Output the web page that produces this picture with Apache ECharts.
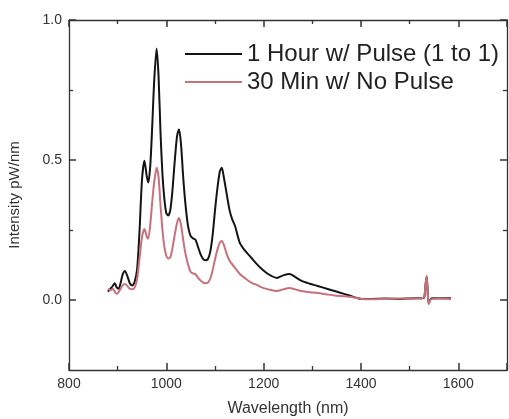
<!DOCTYPE html>
<html>
<head>
<meta charset="utf-8">
<script src="https://cdn.jsdelivr.net/npm/echarts@6/dist/echarts.min.js"></script>
<style>
html,body{margin:0;padding:0;background:#fff;}
#c{width:509px;height:419px;}
</style>
</head>
<body>
<div id="c"></div>
<script>
// Data
const wavelengths = [880,885,890,894,898,902,906,910,915,920,925,930,935,940,945,950,955,960,963,967,971,975,980,984,988,992,996,1000,1004,1008,1012,1017,1022,1026,1030,1035,1040,1045,1050,1055,1060,1065,1070,1075,1080,1085,1090,1095,1100,1105,1110,1114,1118,1124,1130,1135,1141,1151,1160,1175,1185,1196,1210,1227,1240,1253,1265,1278,1295,1311,1330,1346,1365,1380,1392,1401,1420,1450,1480,1510,1525,1530,1533,1535,1537,1539,1542,1546,1560,1585];
const pulseSeries = [0.030,0.040,0.050,0.060,0.045,0.040,0.060,0.090,0.104,0.085,0.060,0.052,0.065,0.110,0.250,0.430,0.497,0.440,0.420,0.480,0.620,0.780,0.898,0.800,0.600,0.450,0.360,0.310,0.302,0.320,0.380,0.490,0.585,0.610,0.560,0.430,0.330,0.260,0.228,0.220,0.215,0.190,0.165,0.148,0.142,0.145,0.170,0.230,0.320,0.400,0.460,0.472,0.440,0.379,0.320,0.290,0.265,0.204,0.180,0.150,0.130,0.111,0.092,0.079,0.088,0.093,0.082,0.068,0.058,0.050,0.040,0.032,0.022,0.014,0.007,0.004,0.004,0.005,0.004,0.006,0.006,0.010,0.060,0.084,0.030,-0.012,0.000,0.006,0.006,0.006];
const noPulseSeries = [0.040,0.035,0.040,0.030,0.022,0.028,0.040,0.052,0.057,0.050,0.040,0.038,0.045,0.075,0.150,0.225,0.254,0.225,0.220,0.270,0.350,0.420,0.472,0.440,0.340,0.250,0.190,0.158,0.148,0.152,0.180,0.230,0.275,0.293,0.270,0.210,0.160,0.125,0.100,0.095,0.092,0.080,0.070,0.063,0.060,0.062,0.075,0.105,0.145,0.180,0.205,0.211,0.198,0.165,0.140,0.128,0.115,0.093,0.080,0.061,0.055,0.045,0.038,0.032,0.038,0.043,0.038,0.032,0.028,0.025,0.020,0.016,0.013,0.011,0.007,0.004,0.003,0.004,0.005,0.005,0.006,0.012,0.060,0.086,0.030,-0.015,-0.002,0.004,0.005,0.004];
const seriesNames = ['1 Hour w/ Pulse (1 to 1)', '30 Min w/ No Pulse'];
const xTicks = [800, 1000, 1200, 1400, 1600];
const yTicks = [0.0, 0.5, 1.0];
const yMinorTicks = [0.25, 0.75];

const font = 'Liberation Sans, Arial, sans-serif';
const axisCol = '#333';

function pairs(vals){ return wavelengths.map((w,i)=>[w, vals[i]]); }

const chart = echarts.init(document.getElementById('c'), null, {renderer:'canvas'});
const baseX = {
  type:'value', min:800, max:1700, interval:200,
  axisLine:{show:true, onZero:false, lineStyle:{color:axisCol, width:1.3}},
  axisTick:{show:true, inside:true, length:7, lineStyle:{color:axisCol, width:1.5}},
  minorTick:{show:true, splitNumber:2, length:4, lineStyle:{color:axisCol, width:1.3}},
  splitLine:{show:false}
};
const baseY = {
  type:'value', min:-0.25, max:1.0, interval:0.25,
  axisLine:{show:true, onZero:false, lineStyle:{color:axisCol, width:1.3}},
  axisTick:{show:true, inside:true, length:7, customValues:yTicks, lineStyle:{color:axisCol, width:1.5}},
  splitLine:{show:false}
};
const minorY = {
  type:'value', min:-0.25, max:1.0, interval:0.25,
  axisLine:{show:false, onZero:false},
  axisLabel:{show:false},
  axisTick:{show:true, inside:true, length:4, customValues:yMinorTicks, lineStyle:{color:axisCol, width:1.3}},
  splitLine:{show:false}
};
chart.setOption({
  animation:false,
  backgroundColor:'#fff',
  grid:{left:69, top:20, right:2, bottom:49, containLabel:false, outerBoundsMode:'none'},
  legend:{
    orient:'vertical', left:185, top:42, itemGap:4, padding:0,
    icon:'rect', itemWidth:57, itemHeight:2,
    textStyle:{fontFamily:font, fontSize:24, color:'#222'},
    data:seriesNames
  },
  xAxis:[
    Object.assign({}, baseX, {
      position:'bottom',
      name:'Wavelength (nm)', nameLocation:'middle', nameGap:31,
      nameTextStyle:{fontFamily:font, fontSize:16, color:'#333'},
      axisLabel:{show:true, margin:7, fontFamily:font, fontSize:14, color:'#333', showMaxLabel:false,
        formatter:function(v){ return xTicks.indexOf(v) >= 0 ? String(v) : ''; }}
    }),
    Object.assign({}, baseX, {position:'top', axisLabel:{show:false}})
  ],
  yAxis:[
    Object.assign({}, baseY, {
      position:'left',
      name:'Intensity pW/nm', nameLocation:'middle', nameGap:47,
      nameTextStyle:{fontFamily:font, fontSize:15, color:'#333'},
      axisLabel:{show:true, margin:7, fontFamily:font, fontSize:14, color:'#333', customValues:yTicks,
        formatter:function(v){ return Number(v).toFixed(1); }}
    }),
    Object.assign({}, baseY, {position:'right', axisLabel:{show:false}}),
    Object.assign({}, minorY, {position:'left'}),
    Object.assign({}, minorY, {position:'right'})
  ],
  series:[
    {name:seriesNames[0], type:'line', xAxisIndex:0, yAxisIndex:0, data:pairs(pulseSeries),
     showSymbol:false, symbol:'none', smooth:0.25, z:2,
     lineStyle:{color:'#141414', width:2}, itemStyle:{color:'#141414'}},
    {name:seriesNames[1], type:'line', xAxisIndex:0, yAxisIndex:0, data:pairs(noPulseSeries),
     showSymbol:false, symbol:'none', smooth:0.25, z:3,
     lineStyle:{color:'#c8707c', width:2}, itemStyle:{color:'#c8707c'}}
  ]
});
</script>
</body>
</html>
